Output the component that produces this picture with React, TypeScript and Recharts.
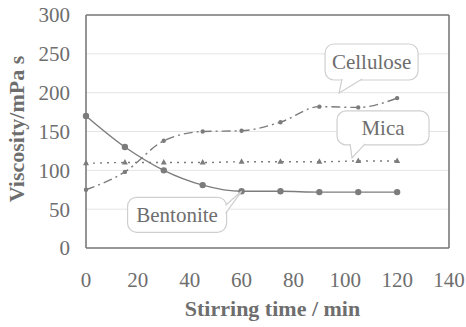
import React from 'react';
import { LineChart, Line, XAxis, YAxis, CartesianGrid, ReferenceLine, ReferenceDot } from 'recharts';

const times = [0, 15, 30, 45, 60, 75, 90, 105, 120];
const bentonite = [170, 130, 100, 81, 73, 73, 72, 72, 72];
const cellulose = [75, 98, 138, 150, 151, 162, 182, 181, 193];
const mica = [109, 110, 110, 110, 111, 111, 111, 112, 112];

const xTicks = [0, 20, 40, 60, 80, 100, 120, 140];
const yTicks = [0, 50, 100, 150, 200, 250, 300];

const data = times.map((t, i) => ({
  time: t,
  bentonite: bentonite[i],
  cellulose: cellulose[i],
  mica: mica[i],
}));

const FONT = 'Liberation Serif';
const AXIS = '#7a7a7a';
const LINE = '#7c7c7c';
const TEXT = '#6e6e6e';
const BOX = '#cfcfcf';

// callout box drawn relative to the point its tail touches
const Callout = (props: any) => {
  const { cx, cy, text, box, tail } = props;
  if (cx == null || cy == null) return null;
  const [bx0, by0, bx1, by1] = box;
  const [a, b] = tail;
  return (
    <g>
      <rect x={cx + bx0} y={cy + by0} width={bx1 - bx0} height={by1 - by0} rx={9} ry={9}
        fill="#fff" stroke={BOX} strokeWidth={1.2} />
      <polygon points={`${cx + a[0]},${cy + a[1]} ${cx},${cy} ${cx + b[0]},${cy + b[1]}`} fill="#fff" stroke="none" />
      <polyline points={`${cx + a[0]},${cy + a[1]} ${cx},${cy} ${cx + b[0]},${cy + b[1]}`} fill="none" stroke={BOX} strokeWidth={1.2} />
      <text x={cx + (bx0 + bx1) / 2} y={cy + (by0 + by1) / 2 + 7} textAnchor="middle"
        fontFamily={FONT} fontSize={21} fill={TEXT}>{text}</text>
    </g>
  );
};

const Triangle = (props: any) => {
  const { cx, cy } = props;
  if (cx == null || cy == null) return null;
  return <polygon points={`${cx},${cy - 3.5} ${cx - 3},${cy + 2} ${cx + 3},${cy + 2}`} fill={LINE} />;
};

const XTitle = (props: any) => {
  const { viewBox } = props;
  return (
    <text x={viewBox.x + viewBox.width / 2 + 5} y={viewBox.y + 68} textAnchor="middle"
      fontFamily={FONT} fontWeight="bold" fontSize={22} fill={TEXT}>Stirring time / min</text>
  );
};

const YTitle = () => (
  <text x={24} y={129} textAnchor="middle" transform="rotate(-90, 24, 129)"
    fontFamily={FONT} fontWeight="bold" fontSize={22} fill={TEXT}>Viscosity/mPa s</text>
);

export default function App() {
  const tick = { fontSize: 21, fill: TEXT, fontFamily: FONT };
  return (
    <div style={{ position: 'absolute', left: 0, top: 0, background: '#fff' }}>
      <LineChart width={466} height={327} data={data} margin={{ top: 15, right: 17, left: 0, bottom: 0 }}>
        <CartesianGrid vertical={false} stroke="#e4e4e4" />
        <XAxis dataKey="time" type="number" domain={[0, 140]} ticks={xTicks} height={79}
          tick={tick} tickLine={false} tickSize={0} tickMargin={24}
          axisLine={{ stroke: AXIS, strokeWidth: 1.6 }} label={<XTitle />} />
        <YAxis type="number" domain={[0, 300]} ticks={yTicks} width={86}
          tick={tick} tickLine={false} tickSize={0} tickMargin={16}
          axisLine={{ stroke: AXIS, strokeWidth: 1.6 }} label={<YTitle />} />
        <ReferenceLine y={300} stroke={AXIS} strokeWidth={1.6} />
        <ReferenceLine x={140} stroke={AXIS} strokeWidth={1.6} />
        <Line type="monotone" dataKey="cellulose" stroke={LINE} strokeWidth={1.4} strokeDasharray="9 4 2 4"
          dot={{ r: 1.5, fill: LINE, stroke: LINE }} isAnimationActive={false} />
        <Line type="monotone" dataKey="mica" stroke={LINE} strokeWidth={1.4} strokeDasharray="2 5"
          dot={<Triangle />} isAnimationActive={false} />
        <Line type="monotone" dataKey="bentonite" stroke={LINE} strokeWidth={1.4}
          dot={{ r: 2.5, fill: LINE, stroke: LINE }} isAnimationActive={false} />
        <ReferenceDot x={97.6} y={199.6} r={0} shape={(p: any) => (
          <Callout {...p} text="Cellulose" box={[-14, -49, 79, -13]} tail={[[3, -14], [23, -14]]} />
        )} />
        <ReferenceDot x={102.6} y={116} r={0} shape={(p: any) => (
          <Callout {...p} text="Mica" box={[-15, -47, 77, -13]} tail={[[-2, -14], [13, -14]]} />
        )} />
        <ReferenceDot x={60} y={73} r={0} shape={(p: any) => (
          <Callout {...p} text="Bentonite" box={[-114, 6, -15, 41]} tail={[[-16, 14], [-16, 22]]} />
        )} />
      </LineChart>
    </div>
  );
}
